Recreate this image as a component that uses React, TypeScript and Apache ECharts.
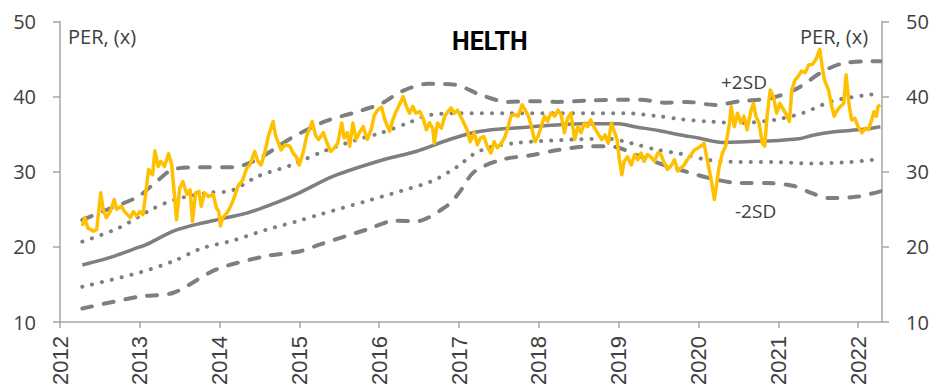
import React, { useEffect, useRef } from "react";
import * as echarts from "echarts";

// Yellow PER line: [year, PER]
const per: [number, number][] = [
  [2012.28, 22.8], [2012.31, 23.9], [2012.35, 22.5], [2012.42, 22.1], [2012.46, 22.3], [2012.51, 27.2],
  [2012.54, 25.0], [2012.58, 23.9], [2012.63, 24.7], [2012.68, 26.3], [2012.71, 25.0], [2012.77, 25.4],
  [2012.81, 24.7], [2012.88, 23.9], [2012.92, 24.7], [2012.96, 24.1], [2013.0, 24.7], [2013.04, 24.3],
  [2013.07, 26.7], [2013.11, 30.3], [2013.16, 29.6], [2013.19, 32.8], [2013.23, 30.7], [2013.26, 31.4],
  [2013.31, 30.7], [2013.36, 32.4], [2013.4, 30.9], [2013.44, 26.3], [2013.46, 23.6], [2013.5, 27.8],
  [2013.54, 28.7], [2013.59, 27.0], [2013.63, 27.6], [2013.66, 23.4], [2013.7, 27.2], [2013.74, 27.4],
  [2013.77, 25.4], [2013.81, 27.2], [2013.86, 26.7], [2013.92, 27.0], [2013.96, 25.2], [2013.99, 24.7],
  [2014.01, 22.8], [2014.04, 23.9], [2014.09, 24.5], [2014.13, 25.2], [2014.18, 26.5], [2014.23, 28.1],
  [2014.29, 28.9], [2014.34, 30.5], [2014.38, 30.9], [2014.44, 32.7], [2014.48, 31.4], [2014.52, 30.9],
  [2014.57, 32.7], [2014.61, 34.7], [2014.63, 35.4], [2014.67, 36.7], [2014.7, 34.9], [2014.73, 34.0],
  [2014.77, 32.9], [2014.82, 33.6], [2014.88, 33.4], [2014.92, 32.5], [2014.96, 32.0], [2015.0, 30.9],
  [2015.05, 32.7], [2015.09, 34.7], [2015.13, 35.8], [2015.16, 36.7], [2015.2, 34.9], [2015.24, 34.3],
  [2015.3, 35.2], [2015.34, 34.0], [2015.39, 32.7], [2015.44, 33.2], [2015.48, 33.8], [2015.53, 36.5],
  [2015.56, 34.5], [2015.6, 35.2], [2015.63, 33.4], [2015.67, 36.5], [2015.71, 34.3], [2015.75, 35.2],
  [2015.8, 36.0], [2015.85, 34.3], [2015.9, 35.6], [2015.94, 37.6], [2015.98, 38.2], [2016.03, 38.6],
  [2016.07, 36.9], [2016.13, 35.4], [2016.17, 36.9], [2016.21, 38.0], [2016.26, 39.1], [2016.3, 40.0],
  [2016.34, 38.7], [2016.38, 37.8], [2016.42, 38.7], [2016.46, 37.8], [2016.51, 38.0], [2016.55, 37.1],
  [2016.59, 35.6], [2016.63, 36.5], [2016.67, 35.8], [2016.69, 33.8], [2016.73, 36.5], [2016.78, 35.8],
  [2016.82, 37.4], [2016.86, 38.0], [2016.9, 38.5], [2016.94, 37.8], [2016.98, 38.2], [2017.02, 37.4],
  [2017.06, 36.5], [2017.1, 35.6], [2017.14, 34.0], [2017.19, 35.2], [2017.23, 33.6], [2017.27, 34.5],
  [2017.31, 34.7], [2017.36, 33.2], [2017.4, 32.5], [2017.44, 34.0], [2017.48, 33.2], [2017.53, 33.8],
  [2017.57, 34.5], [2017.61, 35.8], [2017.65, 37.4], [2017.69, 37.6], [2017.74, 37.4], [2017.79, 38.9],
  [2017.83, 38.2], [2017.87, 37.4], [2017.9, 36.3], [2017.95, 34.0], [2017.99, 34.7], [2018.03, 36.0],
  [2018.07, 37.4], [2018.11, 36.7], [2018.15, 37.8], [2018.2, 37.4], [2018.24, 38.2], [2018.28, 37.6],
  [2018.32, 35.2], [2018.36, 37.1], [2018.4, 37.8], [2018.45, 34.3], [2018.49, 36.0], [2018.53, 35.2],
  [2018.57, 36.5], [2018.61, 36.0], [2018.65, 36.9], [2018.7, 35.8], [2018.75, 34.9], [2018.79, 34.3],
  [2018.83, 34.9], [2018.87, 33.8], [2018.91, 36.5], [2018.95, 35.2], [2018.98, 34.3], [2019.01, 31.6],
  [2019.04, 29.6], [2019.07, 31.4], [2019.11, 32.0], [2019.16, 30.9], [2019.2, 32.3], [2019.24, 31.6],
  [2019.28, 32.5], [2019.32, 31.4], [2019.36, 32.3], [2019.4, 32.0], [2019.45, 31.4], [2019.49, 32.5],
  [2019.53, 32.3], [2019.57, 31.2], [2019.61, 30.3], [2019.65, 30.7], [2019.7, 31.6], [2019.74, 30.1],
  [2019.78, 30.5], [2019.82, 30.9], [2019.86, 31.6], [2019.95, 32.9], [2020.03, 33.4], [2020.07, 33.8],
  [2020.11, 31.6], [2020.16, 28.9], [2020.2, 26.3], [2020.23, 28.5], [2020.26, 30.7], [2020.3, 32.5],
  [2020.34, 33.4], [2020.39, 36.5], [2020.41, 38.7], [2020.45, 36.0], [2020.49, 37.8], [2020.53, 36.5],
  [2020.57, 37.4], [2020.61, 35.6], [2020.66, 38.2], [2020.69, 39.1], [2020.72, 37.4], [2020.76, 36.5],
  [2020.8, 33.8], [2020.83, 33.4], [2020.86, 37.4], [2020.9, 40.9], [2020.94, 40.0], [2020.98, 37.8],
  [2021.02, 39.1], [2021.07, 38.2], [2021.11, 37.4], [2021.14, 36.7], [2021.17, 40.9], [2021.21, 42.2],
  [2021.25, 42.7], [2021.29, 43.4], [2021.34, 43.2], [2021.38, 44.2], [2021.43, 44.3], [2021.47, 44.9],
  [2021.52, 46.3], [2021.55, 44.0], [2021.58, 42.2], [2021.63, 40.9], [2021.67, 38.7], [2021.7, 37.4],
  [2021.74, 38.2], [2021.78, 38.7], [2021.82, 39.1], [2021.85, 42.9], [2021.89, 38.7], [2021.92, 36.9],
  [2021.96, 37.1], [2022.0, 36.0], [2022.05, 35.2], [2022.09, 35.8], [2022.13, 35.6], [2022.17, 36.9],
  [2022.2, 38.0], [2022.23, 37.4], [2022.25, 38.7], [2022.28, 38.9],
];

// Rolling mean
const mean: [number, number][] = [
  [2012.28, 17.6], [2012.63, 18.6], [2013.0, 20.0], [2013.08, 20.3], [2013.42, 22.1], [2013.67, 22.9],
  [2014.0, 23.7], [2014.34, 24.5], [2014.71, 25.9], [2015.0, 27.2], [2015.42, 29.4], [2016.05, 31.6],
  [2016.46, 32.7], [2016.88, 34.3], [2017.17, 35.2], [2017.34, 35.5], [2017.92, 36.0], [2018.55, 36.4],
  [2019.0, 36.4], [2019.2, 36.0], [2019.5, 35.5], [2019.78, 34.9], [2020.0, 34.5], [2020.3, 33.9],
  [2020.86, 34.1], [2021.26, 34.4], [2021.45, 34.9], [2021.68, 35.3], [2021.9, 35.5], [2022.1, 35.7],
  [2022.28, 36.0],
];

// +1 SD (dotted)
const plus1: [number, number][] = [
  [2012.28, 20.7], [2012.73, 22.5], [2013.15, 25.0], [2013.44, 26.3], [2013.86, 27.2], [2014.15, 27.5],
  [2014.48, 29.4], [2014.9, 30.9], [2015.32, 32.8], [2015.73, 34.3], [2016.03, 35.2], [2016.36, 36.5],
  [2016.61, 37.5], [2016.98, 37.8], [2017.6, 37.8], [2018.6, 37.8], [2019.07, 37.8], [2019.49, 37.4],
  [2019.78, 37.0], [2020.11, 36.7], [2020.53, 36.5], [2020.95, 36.9], [2021.3, 37.8], [2021.68, 39.4],
  [2022.1, 40.2], [2022.28, 40.4],
];

// -1 SD (dotted)
const minus1: [number, number][] = [
  [2012.28, 14.7], [2013.0, 16.6], [2013.42, 18.1], [2013.77, 19.8], [2014.15, 20.8], [2014.59, 22.3],
  [2015.0, 23.5], [2015.25, 24.3], [2015.84, 26.1], [2016.26, 27.4], [2016.67, 28.8], [2016.98, 30.7],
  [2017.19, 32.4], [2017.4, 33.3], [2017.69, 33.8], [2017.9, 34.0], [2018.45, 34.3], [2018.86, 34.4],
  [2019.16, 33.8], [2019.49, 32.9], [2019.78, 32.4], [2020.11, 31.6], [2020.53, 31.3], [2020.95, 31.3],
  [2021.41, 31.1], [2021.9, 31.3], [2022.28, 31.7],
];

// +2 SD (dashed)
const plus2: [number, number][] = [
  [2012.28, 23.6], [2012.6, 25.0], [2012.98, 26.7], [2013.23, 28.9], [2013.44, 30.4], [2013.86, 30.6],
  [2014.17, 30.6], [2014.48, 31.7], [2014.9, 34.5], [2015.32, 36.7], [2015.73, 38.0], [2016.03, 39.1],
  [2016.28, 40.7], [2016.61, 41.7], [2016.94, 41.6], [2017.28, 40.2], [2017.61, 39.3], [2017.9, 39.4],
  [2018.24, 39.3], [2018.65, 39.5], [2019.28, 39.6], [2019.57, 39.2], [2019.86, 39.3], [2020.2, 38.9],
  [2020.53, 39.4], [2020.91, 39.8], [2021.24, 41.1], [2021.55, 43.3], [2021.8, 44.4], [2022.1, 44.7],
  [2022.28, 44.7],
];

// -2 SD (dashed)
const minus2: [number, number][] = [
  [2012.28, 11.8], [2013.0, 13.4], [2013.42, 13.9], [2013.96, 17.0], [2014.59, 18.8], [2015.0, 19.4],
  [2015.25, 20.3], [2015.84, 22.3], [2016.21, 23.5], [2016.46, 23.4], [2016.84, 25.4], [2017.0, 27.2],
  [2017.19, 30.0], [2017.53, 31.6], [2017.9, 32.2], [2018.24, 32.9], [2018.65, 33.4], [2018.95, 33.3],
  [2019.28, 32.0], [2019.57, 30.9], [2019.82, 30.1], [2020.2, 29.0], [2020.53, 28.5], [2020.86, 28.5],
  [2021.2, 28.1], [2021.41, 27.2], [2021.64, 26.5], [2022.0, 26.7], [2022.28, 27.4],
];

const yearTicks = [2012, 2013, 2014, 2015, 2016, 2017, 2018, 2019, 2020, 2021, 2022];

const GREY = "#7f7f7f";
const AXIS = "#a6a6a6";
const TXT = "#404040";
const FONT = "'Open Sans', 'Noto Sans', sans-serif";

export default function App() {
  const ref = useRef<HTMLDivElement>(null);
  useEffect(() => {
    if (!ref.current) return;
    const chart = echarts.init(ref.current, undefined, { renderer: "svg" });
    const yAxisCommon = {
      type: "value" as const,
      min: 10,
      max: 50,
      interval: 10,
      splitLine: { show: false },
      axisLine: { show: true, lineStyle: { color: AXIS, width: 1.5 } },
      axisTick: { show: true, length: 7, lineStyle: { color: AXIS, width: 1.5 } },
      axisLabel: { color: TXT, fontSize: 20, fontFamily: FONT, margin: 24 },
    };
    chart.setOption({
      animation: false,
      grid: { left: 60, right: 56, top: 21.5, bottom: 65.5 },
      xAxis: {
        type: "value",
        min: yearTicks[0],
        max: 2022.3,
        interval: 1,
        splitLine: { show: false },
        axisLine: { lineStyle: { color: AXIS, width: 1.5 } },
        axisTick: { show: true, length: 6, lineStyle: { color: AXIS, width: 1.5 } },
        axisLabel: {
          color: TXT,
          fontSize: 22,
          fontFamily: "'Liberation Sans', Arial, sans-serif",
          rotate: 90,
          margin: 14,
          showMaxLabel: false,
          formatter: (v: number) => (yearTicks.includes(Math.round(v)) && Math.abs(v - Math.round(v)) < 1e-6 ? String(Math.round(v)) : ""),
        },
      },
      yAxis: [
        { ...yAxisCommon, position: "left" },
        { ...yAxisCommon, position: "right" },
      ],
      series: [
        {
          type: "line", data: minus2, showSymbol: false, smooth: 0.3,
          lineStyle: { color: GREY, width: 4, type: [10, 12], cap: "round" },
        },
        {
          type: "line", data: plus2, showSymbol: false, smooth: 0.3,
          lineStyle: { color: GREY, width: 4, type: [10, 12], cap: "round" },
        },
        {
          type: "line", data: minus1, showSymbol: false, smooth: 0.3,
          lineStyle: { color: GREY, width: 4, type: [0.1, 10], cap: "round" },
        },
        {
          type: "line", data: plus1, showSymbol: false, smooth: 0.3,
          lineStyle: { color: GREY, width: 4, type: [0.1, 10], cap: "round" },
        },
        {
          type: "line", data: mean, showSymbol: false, smooth: 0.3,
          lineStyle: { color: GREY, width: 3.5 },
        },
        {
          type: "line", data: per, showSymbol: false,
          lineStyle: { color: "#FFC000", width: 3.5, join: "round" },
        },
      ],
      graphic: [
        {
          type: "text", left: 68, top: 26,
          style: { text: "PER, (x)", fill: TXT, font: `20px ${FONT}` },
        },
        {
          type: "text", left: 800, top: 26,
          style: { text: "PER, (x)", fill: TXT, font: `20px ${FONT}` },
        },
        {
          type: "text", left: 452, top: 29,
          style: { text: "HELTH", fill: "#000", font: `bold 25px Roboto, sans-serif` },
        },
        {
          type: "text", left: 721, top: 72,
          style: { text: "+2SD", fill: TXT, font: `19px ${FONT}` },
        },
        {
          type: "text", left: 735, top: 201,
          style: { text: "-2SD", fill: TXT, font: `19px ${FONT}` },
        },
      ],
    });
    return () => chart.dispose();
  }, []);
  return (
    <div
      ref={ref}
      style={{ position: "fixed", left: 0, top: 0, width: 938, height: 388, background: "#fff" }}
    />
  );
}
